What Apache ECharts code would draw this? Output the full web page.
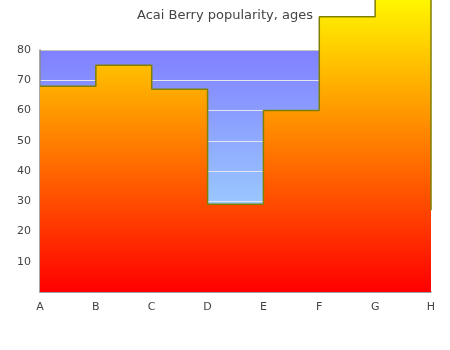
<!DOCTYPE html>
<html>
<head>
<meta charset="utf-8">
<script src="https://cdn.jsdelivr.net/npm/echarts@6/dist/echarts.min.js"></script>
<style>
  html, body { margin: 0; padding: 0; background: #fff; }
  #chart { width: 450px; height: 350px; }
</style>
</head>
<body>
<div id="chart"></div>
<script>
// Popularity by age group
const categories = ['A', 'B', 'C', 'D', 'E', 'F', 'G', 'H'];
const popularity = [68, 75, 67, 29, 60, 91, 100, 27];
const yTicks = { min: 0, max: 80, interval: 10 };

const chart = echarts.init(document.getElementById('chart'), null, { renderer: 'canvas' });

// light grid lines inside the plot, a grey one along the top edge
const splitColors = ['#e4e4ee', '#e4e4ee', '#e4e4ee', '#e4e4ee', '#e4e4ee',
                     '#e4e4ee', '#e4e4ee', '#e4e4ee', '#c4c4c4'];

chart.setOption({
  animation: false,
  textStyle: { fontFamily: 'DejaVu Sans' },
  title: {
    text: 'Acai Berry popularity, ages',
    left: 'center',
    top: 4,
    textStyle: { fontSize: 13, fontWeight: 'normal', color: '#444', fontFamily: 'DejaVu Sans' }
  },
  grid: {
    left: 40, right: 19, top: 50, bottom: 58,
    show: true,
    borderWidth: 0,
    backgroundColor: new echarts.graphic.LinearGradient(0, 0, 0, 1, [
      { offset: 0, color: '#8080ff' },
      { offset: 1, color: '#a8f0ff' }
    ])
  },
  xAxis: {
    type: 'category',
    data: categories,
    boundaryGap: false,
    axisLine: { lineStyle: { color: '#888', width: 1.5 } },
    axisTick: { show: false },
    axisLabel: { color: '#444', fontSize: 11, margin: 10 },
    splitLine: { show: false }
  },
  yAxis: {
    type: 'value',
    min: yTicks.min,
    max: yTicks.max,
    interval: yTicks.interval,
    axisLine: { show: true, lineStyle: { color: '#888', width: 1.5 } },
    axisTick: { show: false },
    axisLabel: { color: '#444', fontSize: 11, margin: 9, showMinLabel: false },
    splitLine: { show: true, lineStyle: { color: splitColors, width: 1 } }
  },
  series: [{
    type: 'line',
    data: popularity,
    step: 'end',
    clip: false,
    showSymbol: false,
    lineStyle: { color: '#808000', width: 1.5 },
    areaStyle: {
      opacity: 1,
      color: new echarts.graphic.LinearGradient(0, 0, 0, 1, [
        { offset: 0, color: '#ffff00' },
        { offset: 1, color: '#ff0000' }
      ])
    }
  }]
});
</script>
</body>
</html>
